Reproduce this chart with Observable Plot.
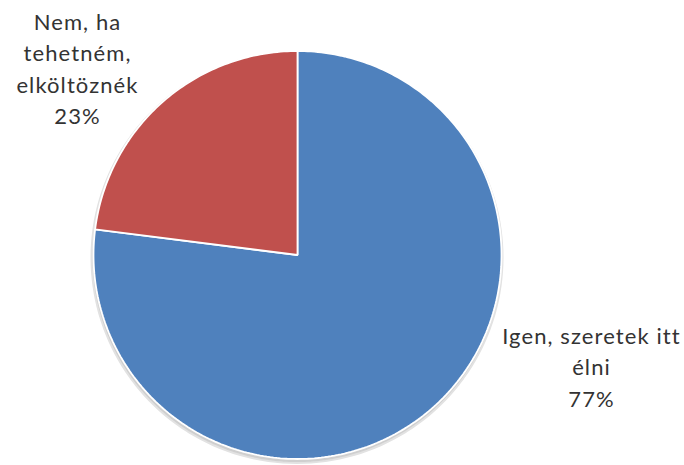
<!DOCTYPE html>
<html>
<head>
<meta charset="utf-8">
<script src="https://cdn.jsdelivr.net/npm/d3@7"></script>
<script src="https://cdn.jsdelivr.net/npm/@observablehq/plot@0.6"></script>
<style>
  html, body { margin: 0; padding: 0; background: #fff; }
  #chart { width: 684px; height: 465px; }
</style>
</head>
<body>
<div id="chart"></div>
<script>
// ---- data ----
const categories = ["Igen, szeretek itt élni", "Nem, ha tehetném, elköltözném"];
const percentages = [77, 23];
const labelLines = [
  ["Igen, szeretek itt", "élni", "77%"],
  ["Nem, ha", "tehetném,", "elköltöznék", "23%"]
];
const sliceColors = ["#4F81BD", "#C0504D"];

// ---- layout ----
const W = 684, H = 465;
const cx = 297, cy = 254.5, R = 204;
const labelPos = [[294, -110], [-220, 188]]; // label block centres relative to pie centre

const pie = d3.pie().sort(null).value(d => d.value);
const arcs = pie(categories.map((c, i) => ({category: c, value: percentages[i]})));

const polyPoints = [];
arcs.forEach((a, i) => {
  const cat = categories[i];
  polyPoints.push({cat, x: 0, y: 0});
  const n = Math.max(8, Math.ceil((a.endAngle - a.startAngle) * 60));
  for (let k = 0; k <= n; k++) {
    const t = a.startAngle + (a.endAngle - a.startAngle) * k / n;
    polyPoints.push({cat, x: R * Math.sin(t), y: R * Math.cos(t)});
  }
});

const shadow = d3.range(0, 361, 2).map(d => {
  const t = d * Math.PI / 180;
  return {x: (R + 1.5) * Math.sin(t) - 0.5, y: (R + 1.5) * Math.cos(t) - 2.5};
});

const labels = categories.map((c, i) => ({
  text: labelLines[i].join("\n"),
  x: labelPos[i][0],
  y: labelPos[i][1]
}));

const chart = Plot.plot({
  width: W,
  height: H,
  margin: 0,
  x: {domain: [-cx, W - cx], axis: null},
  y: {domain: [cy - H, cy], axis: null},
  color: {domain: categories, range: sliceColors},
  style: {background: "#fff"},
  marks: [
    Plot.line(shadow, {x: "x", y: "y", curve: "linear-closed", fill: "#cfcfcf", stroke: "#e2e2e2", strokeWidth: 2}),
    Plot.line(polyPoints, {x: "x", y: "y", z: "cat", fill: "cat", stroke: "white", strokeWidth: 1.8, strokeLinejoin: "miter", curve: "linear-closed"}),
    Plot.text(labels, {x: "x", y: "y", text: "text", fontSize: 22, lineHeight: 1.43, fill: "#333", fontFamily: "Lato", textAnchor: "middle", lineAnchor: "middle"})
  ]
});
d3.select(chart).selectAll("text").attr("letter-spacing", "1.1px").attr("font-weight", "normal");
document.getElementById("chart").appendChild(chart);
</script>
</body>
</html>
